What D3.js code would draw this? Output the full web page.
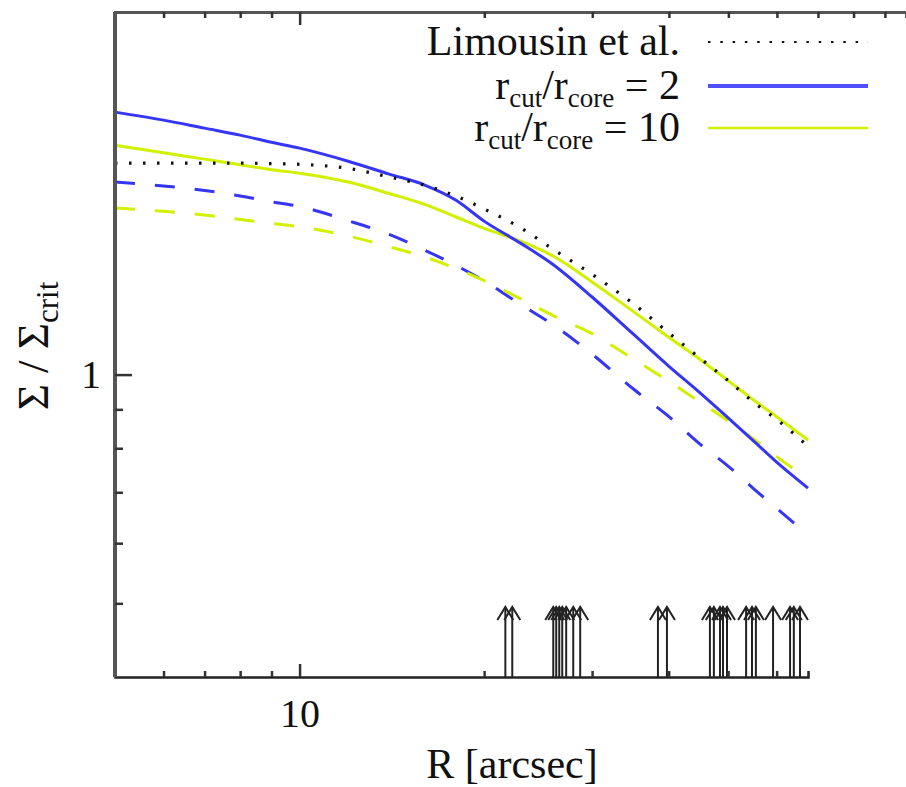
<!DOCTYPE html>
<html>
<head>
<meta charset="utf-8">
<script src="https://cdn.jsdelivr.net/npm/d3@7"></script>
<style>
  body { margin: 0; background: #fff; }
</style>
</head>
<body>
<div class="chart"></div>
<script>
var svgWidth = 906;
var svgHeight = 787;
var serif = "'Liberation Serif', 'DejaVu Serif', 'Noto Serif', 'Times New Roman', serif";

// plot box in pixels
var margin = { top: 12, right: 98, bottom: 110, left: 115 };
var width = svgWidth - margin.left - margin.right;
var height = svgHeight - margin.top - margin.bottom;

// radius grid (arcsec) shared by all curves
var radius = [5, 6, 7, 8, 9, 10, 12, 14, 16, 18, 20, 23, 26, 30, 35, 40, 45, 50, 55, 60, 67.5];

// Sigma / Sigma_crit
var limousin = [1.898, 1.898, 1.898, 1.898, 1.895, 1.891, 1.868, 1.820, 1.775, 1.717, 1.652,
  1.558, 1.459, 1.355, 1.240, 1.135, 1.051, 0.982, 0.920, 0.873, 0.805];
var cut2 = [2.215, 2.162, 2.110, 2.066, 2.022, 1.986, 1.909, 1.836, 1.776, 1.696, 1.592,
  1.487, 1.393, 1.265, 1.131, 1.026, 0.946, 0.877, 0.818, 0.767, 0.709];
var cut10 = [2.004, 1.958, 1.921, 1.888, 1.860, 1.841, 1.792, 1.731, 1.675, 1.612, 1.557,
  1.497, 1.430, 1.324, 1.211, 1.120, 1.047, 0.982, 0.926, 0.880, 0.820];
var cut2Dashed = [1.792, 1.771, 1.747, 1.718, 1.688, 1.664, 1.594, 1.529, 1.458, 1.392, 1.328,
  1.235, 1.161, 1.064, 0.958, 0.881, 0.810, 0.758, 0.708, 0.667, 0.615];
var cut10Dashed = [1.656, 1.640, 1.622, 1.600, 1.581, 1.565, 1.522, 1.473, 1.428, 1.379, 1.329,
  1.257, 1.194, 1.132, 1.049, 0.980, 0.920, 0.869, 0.823, 0.780, 0.729];

// arrows marking image radii (arcsec)
var arrowRadii = [21.66, 22.23, 25.93, 26.22, 26.52, 26.82, 27.22, 27.95, 28.69,
  38.42, 39.74, 46.7, 47.4, 48.5, 49.05, 49.8, 53.5, 54.7, 55.5, 59.2, 63.1, 64.0, 65.5];

// ticks
var xMajor = [10];
var xMinor = [6, 7, 8, 9, 20, 30, 40, 50, 60];
var xTopMinor = [6, 7, 8, 9, 20, 30, 40, 50, 60, 70, 80, 90];
var yMajor = [1];
var yMinor = [0.5, 0.6, 0.7, 0.8, 0.9];

var blue = "#3535f5";
var lime = "#d2f000";

var svg = d3.select(".chart")
  .append("svg")
  .attr("width", svgWidth)
  .attr("height", svgHeight)
  .style("font-family", serif);

var chartGroup = svg.append("g")
  .attr("transform", `translate(${margin.left}, ${margin.top})`);

var x = d3.scaleLog().domain([5, 67.5]).range([0, width]);
var y = d3.scaleLog().domain([0.4, 3]).range([height, 0]);

// curves
var series = [
  { values: cut2Dashed, color: blue, width: 3, dash: "20,20" },
  { values: cut10Dashed, color: lime, width: 3, dash: "20,20" },
  { values: cut10, color: lime, width: 3, dash: null },
  { values: cut2, color: blue, width: 3, dash: null },
  { values: limousin, color: "#111", width: 3.2, dash: "2.5,11.5" }
];

var line = d3.line()
  .x(d => x(d[0]))
  .y(d => y(d[1]))
  .curve(d3.curveMonotoneX);

series.forEach(function(s) {
  chartGroup.append("path")
    .datum(radius.map((r, i) => [r, s.values[i]]))
    .attr("d", line)
    .attr("fill", "none")
    .attr("stroke", s.color)
    .attr("stroke-width", s.width)
    .attr("stroke-dasharray", s.dash);
});

// arrows at the bottom
var arrowTop = height - 70;
var arrows = chartGroup.append("g")
  .attr("stroke", "#222")
  .attr("stroke-width", 2)
  .attr("fill", "none");
arrowRadii.forEach(function(r) {
  var ax = x(r);
  arrows.append("line")
    .attr("x1", ax).attr("x2", ax)
    .attr("y1", height).attr("y2", arrowTop);
  arrows.append("path")
    .attr("d", `M${ax - 8},${arrowTop + 13} L${ax},${arrowTop} L${ax + 8},${arrowTop + 13}`);
});

// axes
chartGroup.append("g")
  .attr("transform", `translate(0, ${height})`)
  .call(d3.axisBottom(x).tickValues(xMinor).tickSize(-6).tickFormat(""))
  .call(g => g.select(".domain").attr("stroke", "#222").attr("stroke-width", 2.5));

chartGroup.append("g")
  .attr("transform", `translate(0, ${height})`)
  .call(d3.axisBottom(x).tickValues(xMajor).tickSize(-13).tickFormat(d3.format("d")))
  .call(g => g.select(".domain").remove())
  .call(g => g.selectAll("text").attr("y", 22).attr("font-size", 40));

var xTop = d3.scaleLog().domain([5, 10 * Math.pow(10, (width + margin.right - 184) / 614)])
  .range([0, width + margin.right]);
chartGroup.append("g")
  .call(d3.axisTop(xTop).tickValues(xTopMinor).tickSize(-6).tickFormat(""))
  .call(g => g.select(".domain").attr("stroke", "#555").attr("stroke-width", 3));
chartGroup.append("g")
  .call(d3.axisTop(xTop).tickValues(xMajor).tickSize(-13).tickFormat(""))
  .call(g => g.select(".domain").remove());

chartGroup.append("g")
  .call(d3.axisLeft(y).tickValues(yMinor).tickSize(-8).tickFormat(""))
  .call(g => g.select(".domain").attr("stroke", "#555").attr("stroke-width", 4)
    .attr("d", `M0,${height}V0`));
chartGroup.append("g")
  .call(d3.axisLeft(y).tickValues(yMajor).tickSize(-17).tickFormat(d3.format("d")))
  .call(g => g.select(".domain").remove())
  .call(g => g.selectAll("text").attr("x", -14).attr("font-size", 40));

// d3 axes set their own sans-serif font; put the serif back
chartGroup.selectAll("g").attr("font-family", null).style("font-family", serif);
chartGroup.selectAll(".tick line").attr("stroke", "#333").attr("stroke-width", 2.5);
chartGroup.selectAll(".tick text").attr("fill", "#111");

// axis titles
svg.append("text")
  .attr("x", 512)
  .attr("y", 778)
  .attr("text-anchor", "middle")
  .attr("font-size", 42)
  .attr("fill", "#111")
  .text("R [arcsec]");

var yTitle = svg.append("text")
  .attr("transform", "translate(48, 346) rotate(-90)")
  .attr("text-anchor", "middle")
  .attr("font-size", 45)
  .attr("fill", "#111");
yTitle.append("tspan").text("\u03a3 / \u03a3");
yTitle.append("tspan").attr("font-size", 31).attr("dy", 10).text("crit");

// legend
var legendRows = [
  { main: "Limousin et al.", color: "#111", width: 2, dash: "2.5,9.8", y: 42 },
  { main: "2", color: "#5050ff", width: 4, dash: null, y: 86 },
  { main: "10", color: lime, width: 2.5, dash: null, y: 128 }
];
var legend = svg.append("g");
legendRows.forEach(function(row, i) {
  var t = legend.append("text")
    .attr("x", 680)
    .attr("y", row.y + 13)
    .attr("text-anchor", "end")
    .attr("font-size", 42)
    .attr("fill", "#111");
  if (i === 0) {
    t.text(row.main);
  } else {
    t.append("tspan").text("r");
    t.append("tspan").attr("font-size", 27).attr("dy", 8).text("cut");
    t.append("tspan").attr("dy", -8).text("/r");
    t.append("tspan").attr("font-size", 27).attr("dy", 8).text("core");
    t.append("tspan").attr("dy", -8).text(" = " + row.main);
  }
  legend.append("line")
    .attr("x1", 708).attr("x2", 868)
    .attr("y1", row.y).attr("y2", row.y)
    .attr("stroke", row.color)
    .attr("stroke-width", row.width)
    .attr("stroke-dasharray", row.dash);
});
</script>
</body>
</html>
